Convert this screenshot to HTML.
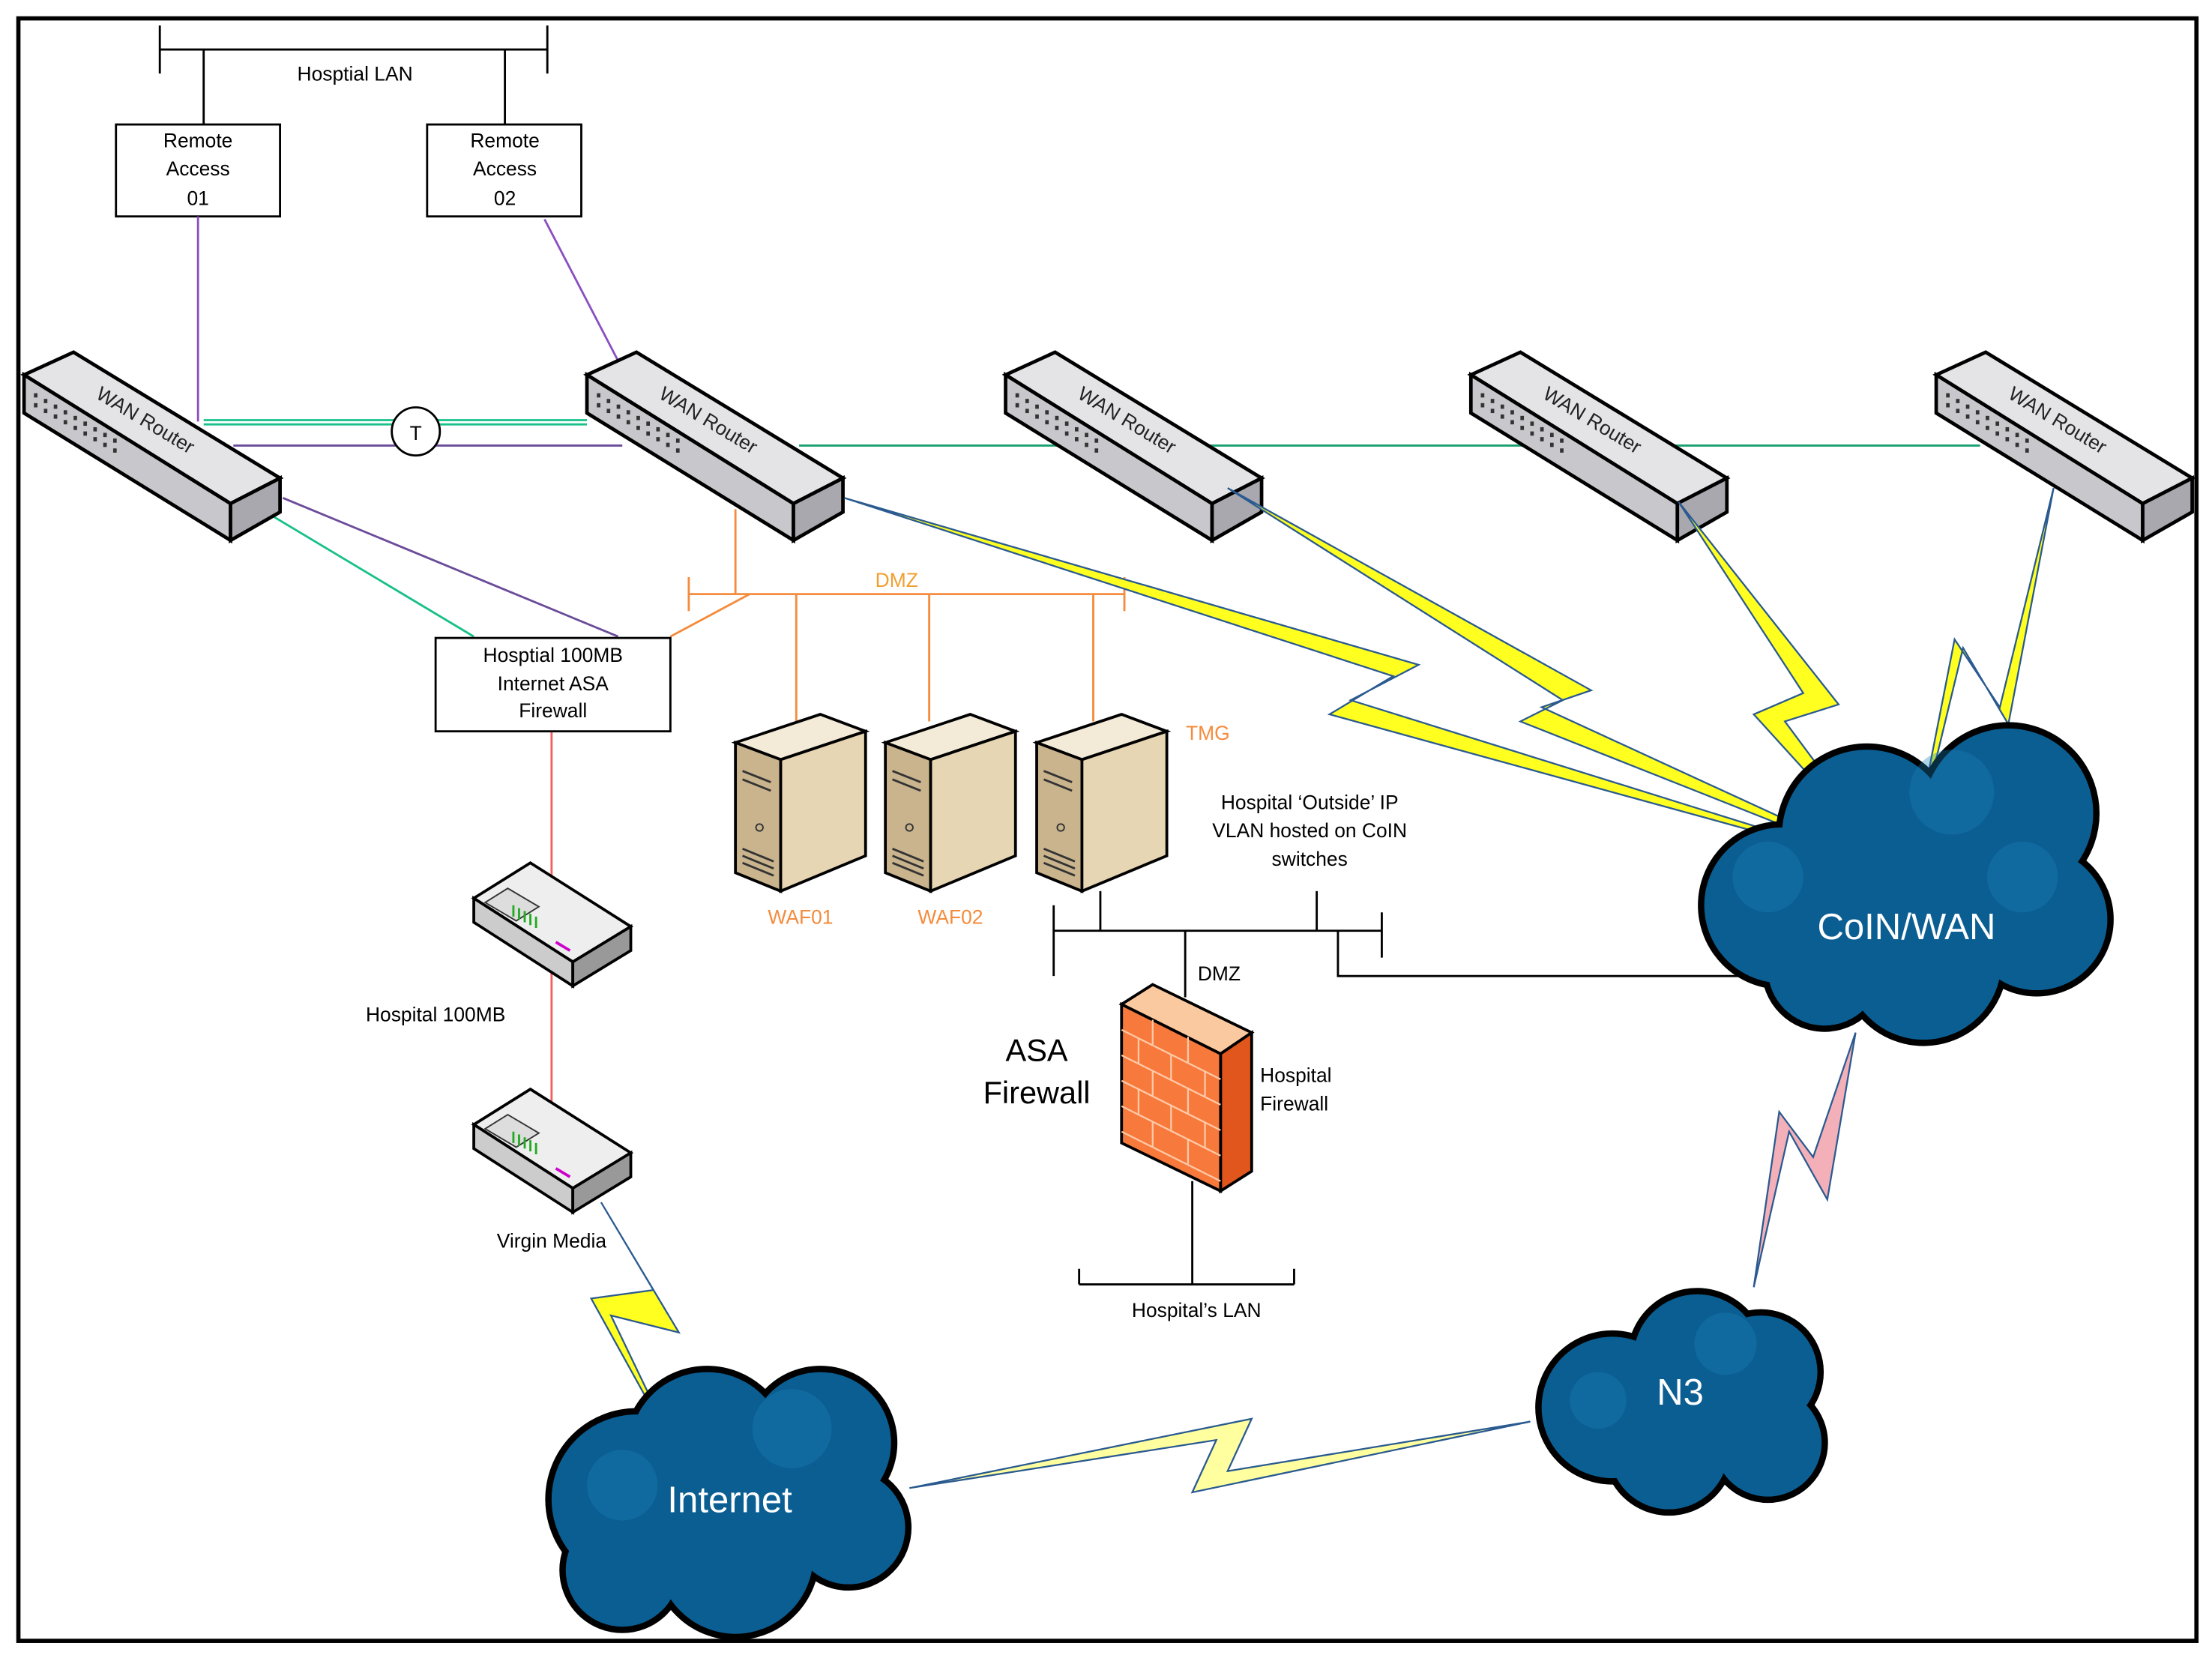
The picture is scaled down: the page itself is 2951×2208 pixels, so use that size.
<!DOCTYPE html>
<html><head><meta charset="utf-8"><style>
html,body{margin:0;padding:0;background:#fff}
svg{display:block}
text{font-family:"Liberation Sans",sans-serif}
</style></head><body>
<svg width="2951" height="2208" viewBox="0 0 1564 1170" preserveAspectRatio="none" xmlns="http://www.w3.org/2000/svg">
<defs>
<g id="router">
 <polygon points="17,265 52,249 198,338 163,356" fill="#e4e4e6" stroke="#000" stroke-width="2.5"/>
 <polygon points="17,265 163,356 163,382 17,292" fill="#c8c8cc" stroke="#000" stroke-width="2.5"/>
 <polygon points="163,356 198,338 198,362 163,382" fill="#a8a8ae" stroke="#000" stroke-width="2.5"/>
 <g fill="#333">
  <rect x="24" y="278" width="2.5" height="3"/><rect x="31" y="282" width="2.5" height="3"/><rect x="38" y="286" width="2.5" height="3"/><rect x="45" y="290" width="2.5" height="3"/><rect x="52" y="294" width="2.5" height="3"/><rect x="59" y="298" width="2.5" height="3"/>
  <rect x="24" y="285" width="2.5" height="3"/><rect x="31" y="289" width="2.5" height="3"/><rect x="38" y="293" width="2.5" height="3"/><rect x="45" y="297" width="2.5" height="3"/><rect x="52" y="301" width="2.5" height="3"/><rect x="59" y="305" width="2.5" height="3"/>
  <rect x="66" y="302" width="2.5" height="3"/><rect x="73" y="306" width="2.5" height="3"/><rect x="66" y="309" width="2.5" height="3"/><rect x="73" y="313" width="2.5" height="3"/><rect x="80" y="310" width="2.5" height="3"/><rect x="80" y="317" width="2.5" height="3"/>
 </g>
 <text x="0" y="0" font-size="14" transform="translate(67,281) rotate(31)" fill="#222">WAN Router</text>
</g>
<g id="server">
 <polygon points="0,20 60,0 92,12 32,32" fill="#f3ead8" stroke="#000" stroke-width="2"/>
 <polygon points="0,20 32,32 32,125 0,112" fill="#c9b48e" stroke="#000" stroke-width="2"/>
 <polygon points="32,32 92,12 92,100 32,125" fill="#e6d6b4" stroke="#000" stroke-width="2"/>
 <path d="M5,40 l20,8 M5,46 l20,8 M5,95 l22,9 M5,100 l22,9 M5,105 l22,9" stroke="#333" stroke-width="1.5"/>
 <circle cx="17" cy="80" r="2.5" fill="none" stroke="#333"/>
</g>
<g id="modem">
 <polygon points="0,25 40,0 111,45 70,70" fill="#eee" stroke="#000" stroke-width="2"/>
 <polygon points="0,25 70,70 70,87 0,42" fill="#ccc" stroke="#000" stroke-width="2"/>
 <polygon points="70,70 111,45 111,62 70,87" fill="#999" stroke="#000" stroke-width="2"/>
 <path d="M8,28 l16,-10 l22,13 l-16,10 z" fill="#ddd" stroke="#333"/>
 <path d="M28,38 l0,-8 M32,40 l0,-8 M36,42 l0,-8 M40,44 l0,-8 M44,46 l0,-8" stroke="#2a2" stroke-width="1.5"/>
 <path d="M58,56 l10,6" stroke="#c0c" stroke-width="2"/>
</g>
</defs>
<rect x="13" y="13" width="1540" height="1147" fill="#fff" stroke="#000" stroke-width="3"/>

<g stroke="#000" stroke-width="1.5" fill="none">
<path d="M113,35 H387 M113,18 V52 M387,18 V52 M144,35 V88 M357,35 V88"/>
<rect x="82" y="88" width="116" height="65" fill="#fff"/>
<rect x="302" y="88" width="109" height="65" fill="#fff"/>
</g>
<text x="251" y="57" font-size="14" text-anchor="middle">Hosptial LAN</text>
<g font-size="14" text-anchor="middle">
<text x="140" y="104">Remote</text><text x="140" y="124">Access</text><text x="140" y="145">01</text>
<text x="357" y="104">Remote</text><text x="357" y="124">Access</text><text x="357" y="145">02</text>
</g>

<g fill="none" stroke-width="1.5">
<path d="M140,153 V298" stroke="#8a4fc0"/>
<path d="M385,155 L437,255" stroke="#8a4fc0"/>
<path d="M144,297 H415 M144,300 H415" stroke="#19c08a"/>
<path d="M165,315 H440" stroke="#6b4c9a"/>
<path d="M565,315 H1400" stroke="#19a070"/>
<path d="M193,365 L335,450" stroke="#19c08a"/>
<path d="M200,352 L437,450" stroke="#6b4c9a"/>
<path d="M520,360 V420 M487,420 H795 M487,408 V432 M795,408 V432 M474,450 L530,420 M563,420 V510 M657,420 V510 M773,420 V510" stroke="#f58b3c"/>
<path d="M390,517 V780" stroke="#f06060"/>
</g>
<circle cx="294" cy="305" r="17" fill="#fff" stroke="#000" stroke-width="1.5"/>
<text x="294" y="311" font-size="14" text-anchor="middle">T</text>
<text x="634" y="415" font-size="14" text-anchor="middle" fill="#f0a030">DMZ</text>

<use href="#router"/>
<use href="#router" x="398"/>
<use href="#router" x="694"/>
<use href="#router" x="1023"/>
<use href="#router" x="1352"/>

<rect x="308" y="451" width="166" height="66" fill="#fff" stroke="#000" stroke-width="1.5"/>
<g font-size="14" text-anchor="middle"><text x="391" y="468">Hosptial 100MB</text><text x="391" y="488">Internet ASA</text><text x="391" y="507">Firewall</text></g>

<use href="#server" x="520" y="505"/>
<use href="#server" x="626" y="505"/>
<use href="#server" x="733" y="505"/>
<g font-size="14" fill="#f58b3c" text-anchor="middle"><text x="566" y="653">WAF01</text><text x="672" y="653">WAF02</text><text x="854" y="523">TMG</text></g>
<g font-size="14" text-anchor="middle"><text x="926" y="572">Hospital ‘Outside’ IP</text><text x="926" y="592">VLAN hosted on CoIN</text><text x="926" y="612">switches</text></g>

<use href="#modem" x="335" y="610"/>
<use href="#modem" x="335" y="770"/>
<text x="308" y="722" font-size="14" text-anchor="middle">Hospital 100MB</text>
<text x="390" y="882" font-size="14" text-anchor="middle">Virgin Media</text>

<g stroke="#000" stroke-width="1.5" fill="none">
<path d="M745,658 H977 M745,640 V690 M977,645 V677 M778,630 V658 M838,658 V705 M931,630 V658 M946,658 V690 H1230 M843,835 V908 M763,908 H915 M763,897 V908 M915,897 V908"/>
</g>
<text x="862" y="693" font-size="14" text-anchor="middle">DMZ</text>
<text x="846" y="931" font-size="14" text-anchor="middle">Hospital’s LAN</text>
<polygon points="793,710 815,696 885,730 863,745" fill="#fbc9a0" stroke="#000" stroke-width="2"/>
<polygon points="863,745 885,730 885,828 863,842" fill="#e0561c" stroke="#000" stroke-width="2"/>
<polygon points="793,710 863,745 863,842 793,808" fill="#f77a3c" stroke="#000" stroke-width="2"/>
<g stroke="#ffc9a8" stroke-width="1.2" fill="none">
<path d="M793,728 L863,763 M793,746 L863,781 M793,764 L863,799 M793,782 L863,817 M793,800 L863,835"/>
<path d="M815,721 V739 M840,733 V751 M805,734 V752 M828,745 V763 M852,757 V775 M815,757 V775 M840,769 V787 M805,770 V788 M828,781 V799 M852,793 V811 M815,793 V811 M840,805 V823"/>
</g>
<text x="733" y="750" font-size="22" text-anchor="middle">ASA</text>
<text x="733" y="780" font-size="22" text-anchor="middle">Firewall</text>
<g font-size="14"><text x="891" y="765">Hospital</text><text x="891" y="785">Firewall</text></g>

<g fill="#ffff20" stroke="#2a5a90" stroke-width="1.2">
<polygon points="597,352 1003,470 955,495 1340,615 940,505 985,478"/>
<polygon points="868,345 1125,488 1090,500 1340,615 1075,510 1105,495"/>
<polygon points="1187,355 1300,498 1262,510 1340,615 1240,505 1275,490"/>
<polygon points="1452,345 1420,512 1388,458 1350,615 1382,452 1414,500"/>
<polygon points="425,850 480,942 432,930 480,1030 418,918 462,912"/>
<polygon points="643,1052 885,1003 868,1040 1082,1005 843,1055 860,1018" fill="#ffffa0"/>
<polygon points="1312,730 1292,848 1265,800 1240,910 1258,786 1282,818" fill="#f4b0b8"/>
</g>

<g stroke="#000" stroke-width="9" fill="#000">
 <circle cx="1260" cy="640" r="55"/><circle cx="1320" cy="590" r="60"/><circle cx="1420" cy="575" r="60"/><circle cx="1440" cy="650" r="50"/><circle cx="1360" cy="680" r="55"/><circle cx="1290" cy="685" r="40"/>
 <circle cx="1140" cy="995" r="50"/><circle cx="1200" cy="960" r="45"/><circle cx="1245" cy="970" r="40"/><circle cx="1250" cy="1020" r="38"/><circle cx="1180" cy="1025" r="42"/>
 <circle cx="450" cy="1060" r="60"/><circle cx="500" cy="1025" r="55"/><circle cx="580" cy="1020" r="50"/><circle cx="600" cy="1080" r="40"/><circle cx="520" cy="1100" r="55"/><circle cx="440" cy="1110" r="40"/>
</g>
<g fill="#0b5e92">
 <circle cx="1260" cy="640" r="55"/><circle cx="1320" cy="590" r="60"/><circle cx="1420" cy="575" r="60"/><circle cx="1440" cy="650" r="50"/><circle cx="1360" cy="680" r="55"/><circle cx="1290" cy="685" r="40"/>
 <ellipse cx="1350" cy="635" rx="95" ry="60"/>
 <circle cx="1140" cy="995" r="50"/><circle cx="1200" cy="960" r="45"/><circle cx="1245" cy="970" r="40"/><circle cx="1250" cy="1020" r="38"/><circle cx="1180" cy="1025" r="42"/>
 <ellipse cx="1195" cy="995" rx="55" ry="40"/>
 <circle cx="450" cy="1060" r="60"/><circle cx="500" cy="1025" r="55"/><circle cx="580" cy="1020" r="50"/><circle cx="600" cy="1080" r="40"/><circle cx="520" cy="1100" r="55"/><circle cx="440" cy="1110" r="40"/>
 <ellipse cx="520" cy="1065" rx="80" ry="50"/>
</g>
<g fill="#1a80b8" opacity="0.35">
 <circle cx="1380" cy="560" r="30"/><circle cx="1250" cy="620" r="25"/><circle cx="1430" cy="620" r="25"/>
 <circle cx="1220" cy="950" r="22"/><circle cx="1130" cy="990" r="20"/>
 <circle cx="560" cy="1010" r="28"/><circle cx="440" cy="1050" r="25"/>
</g>
<g fill="#fff" text-anchor="middle">
<text x="1348" y="664" font-size="26">CoIN/WAN</text>
<text x="1188" y="993" font-size="26">N3</text>
<text x="516" y="1069" font-size="26">Internet</text>
</g>
</svg>
</body></html>
